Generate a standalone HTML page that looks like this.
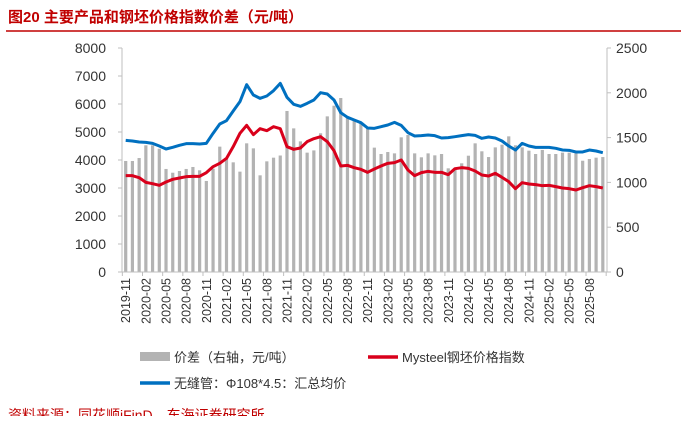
<!DOCTYPE html>
<html><head><meta charset="utf-8"><style>
body{margin:0;background:#fff;width:687px;height:416px;overflow:hidden;font-family:"Liberation Sans","Noto Sans CJK SC",sans-serif}
</style></head><body>
<svg id="c" width="687" height="416" xmlns="http://www.w3.org/2000/svg">
<text x="8" y="22" font-size="15" font-weight="bold" fill="#c00000" font-family="Liberation Sans,Noto Sans CJK SC,sans-serif">图20  主要产品和钢坯价格指数价差（元/吨）</text>
<line x1="6" y1="31" x2="681" y2="31" stroke="#c00000" stroke-width="1.5"/>
<g id="bars"></g><g id="axes"></g><g id="lines"></g>
<g font-size="13" fill="#333">
<rect x="140" y="352" width="30" height="9" fill="#b3b3b3"/>
<text x="174" y="362">价差（右轴，元/吨）</text>
<line x1="368" y1="357" x2="398" y2="357" stroke="#d9001b" stroke-width="3.5"/>
<text x="402" y="362">Mysteel钢坯价格指数</text>
<line x1="140" y1="383" x2="170" y2="383" stroke="#0070c0" stroke-width="3.5"/>
<text x="174" y="388">无缝管：Φ108*4.5：汇总均价</text>
</g>
<text x="8" y="420" font-size="14" fill="#c00000">资料来源：同花顺iFinD，东海证券研究所</text>
</svg>
<script>
const spread=[1239,1239,1272,1414,1414,1376,1150,1108,1127,1150,1172,1135,1016,1153,1399,1269,1224,1120,1436,1380,1079,1235,1276,1300,1797,1603,1458,1332,1357,1548,1737,1856,1942,1734,1696,1663,1612,1388,1317,1339,1324,1503,1529,1324,1280,1324,1302,1317,1157,1160,1213,1298,1436,1347,1283,1391,1421,1514,1414,1391,1354,1317,1362,1317,1317,1332,1332,1324,1242,1261,1276,1283];
const pipe=[4702,4679,4643,4631,4595,4500,4393,4452,4524,4583,4583,4571,4595,4952,5286,5405,5750,6083,6690,6321,6202,6286,6476,6738,6238,5988,5917,6024,6143,6405,6357,6143,5690,5524,5429,5333,5143,5131,5190,5250,5345,5238,4976,4857,4869,4893,4869,4786,4798,4833,4869,4905,4881,4774,4821,4786,4679,4500,4357,4595,4500,4452,4452,4452,4417,4357,4345,4286,4286,4357,4321,4262];
const billet=[3440,3440,3369,3202,3155,3095,3214,3310,3357,3405,3417,3417,3548,3762,3881,4060,4476,4952,5238,4905,5119,5048,5190,5119,4476,4381,4429,4655,4762,4833,4655,4333,3786,3810,3726,3667,3560,3679,3786,3881,3905,4000,3643,3440,3548,3595,3560,3560,3476,3690,3726,3702,3607,3464,3429,3524,3381,3226,2976,3190,3143,3119,3083,3095,3048,3000,2976,2929,3012,3083,3048,3000];
const leftTicks=[0,1000,2000,3000,4000,5000,6000,7000,8000];
const rightTicks=[0,500,1000,1500,2000,2500];
const months=[];for(let i=0;i<72;i++){const m=10+i;months.push((2019+Math.floor(m/12))+'-'+String(m%12+1).padStart(2,'0'));}
const NS='http://www.w3.org/2000/svg';
const X0=125.7,DX=6.72,YT=48,YB=272;
const x=i=>X0+i*DX;
const yl=v=>YB-(v/8000)*(YB-YT);
const yr=v=>YB-(v/2500)*(YB-YT);
function mk(t,a,p){const e=document.createElementNS(NS,t);for(const k in a)e.setAttribute(k,a[k]);p.appendChild(e);return e;}
const bars=document.getElementById('bars'),axes=document.getElementById('axes'),lines=document.getElementById('lines');
spread.forEach((v,i)=>{const r=mk('rect',{x:x(i)-1.6,y:yr(v),width:3.2,height:YB-yr(v),fill:'#b3b3b3'},bars);

});
let a=mk('line',{x1:122,y1:YT,x2:122,y2:YB,stroke:'#bfbfbf'},axes);

a=mk('line',{x1:607,y1:YT,x2:607,y2:YB,stroke:'#bfbfbf'},axes);

a=mk('line',{x1:122,y1:YB,x2:607,y2:YB,stroke:'#bfbfbf'},axes);

leftTicks.forEach(v=>{mk('line',{x1:118,y1:yl(v),x2:122,y2:yl(v),stroke:'#bfbfbf'},axes);
const t=mk('text',{x:106,y:yl(v)+5,'text-anchor':'end','font-size':14,fill:'#333'},axes);t.textContent=v;

});
rightTicks.forEach(v=>{mk('line',{x1:607,y1:yr(v),x2:611,y2:yr(v),stroke:'#bfbfbf'},axes);
const t=mk('text',{x:616,y:yr(v)+5,'font-size':14,fill:'#333'},axes);t.textContent=v;

});
for(let i=0;i<=72;i+=3){const tx=x(i)-DX/2;mk('line',{x1:tx,y1:YB,x2:tx,y2:YB+4,stroke:'#bfbfbf'},axes);}
for(let i=0;i<72;i+=3){const t=mk('text',{x:0,y:0,'text-anchor':'end','font-size':12.5,fill:'#333',transform:`translate(${x(i)+4.5},278) rotate(-90)`},axes);t.textContent=months[i];

}
function line(d,col,name){const p=mk('polyline',{points:d.map((v,i)=>x(i)+','+yl(v)).join(' '),fill:'none',stroke:col,'stroke-width':3,'stroke-linejoin':'round'},lines);

}
line(billet,'#d9001b','line-billet-index');
line(pipe,'#0070c0','line-seamless-pipe');
</script>
</body></html>
